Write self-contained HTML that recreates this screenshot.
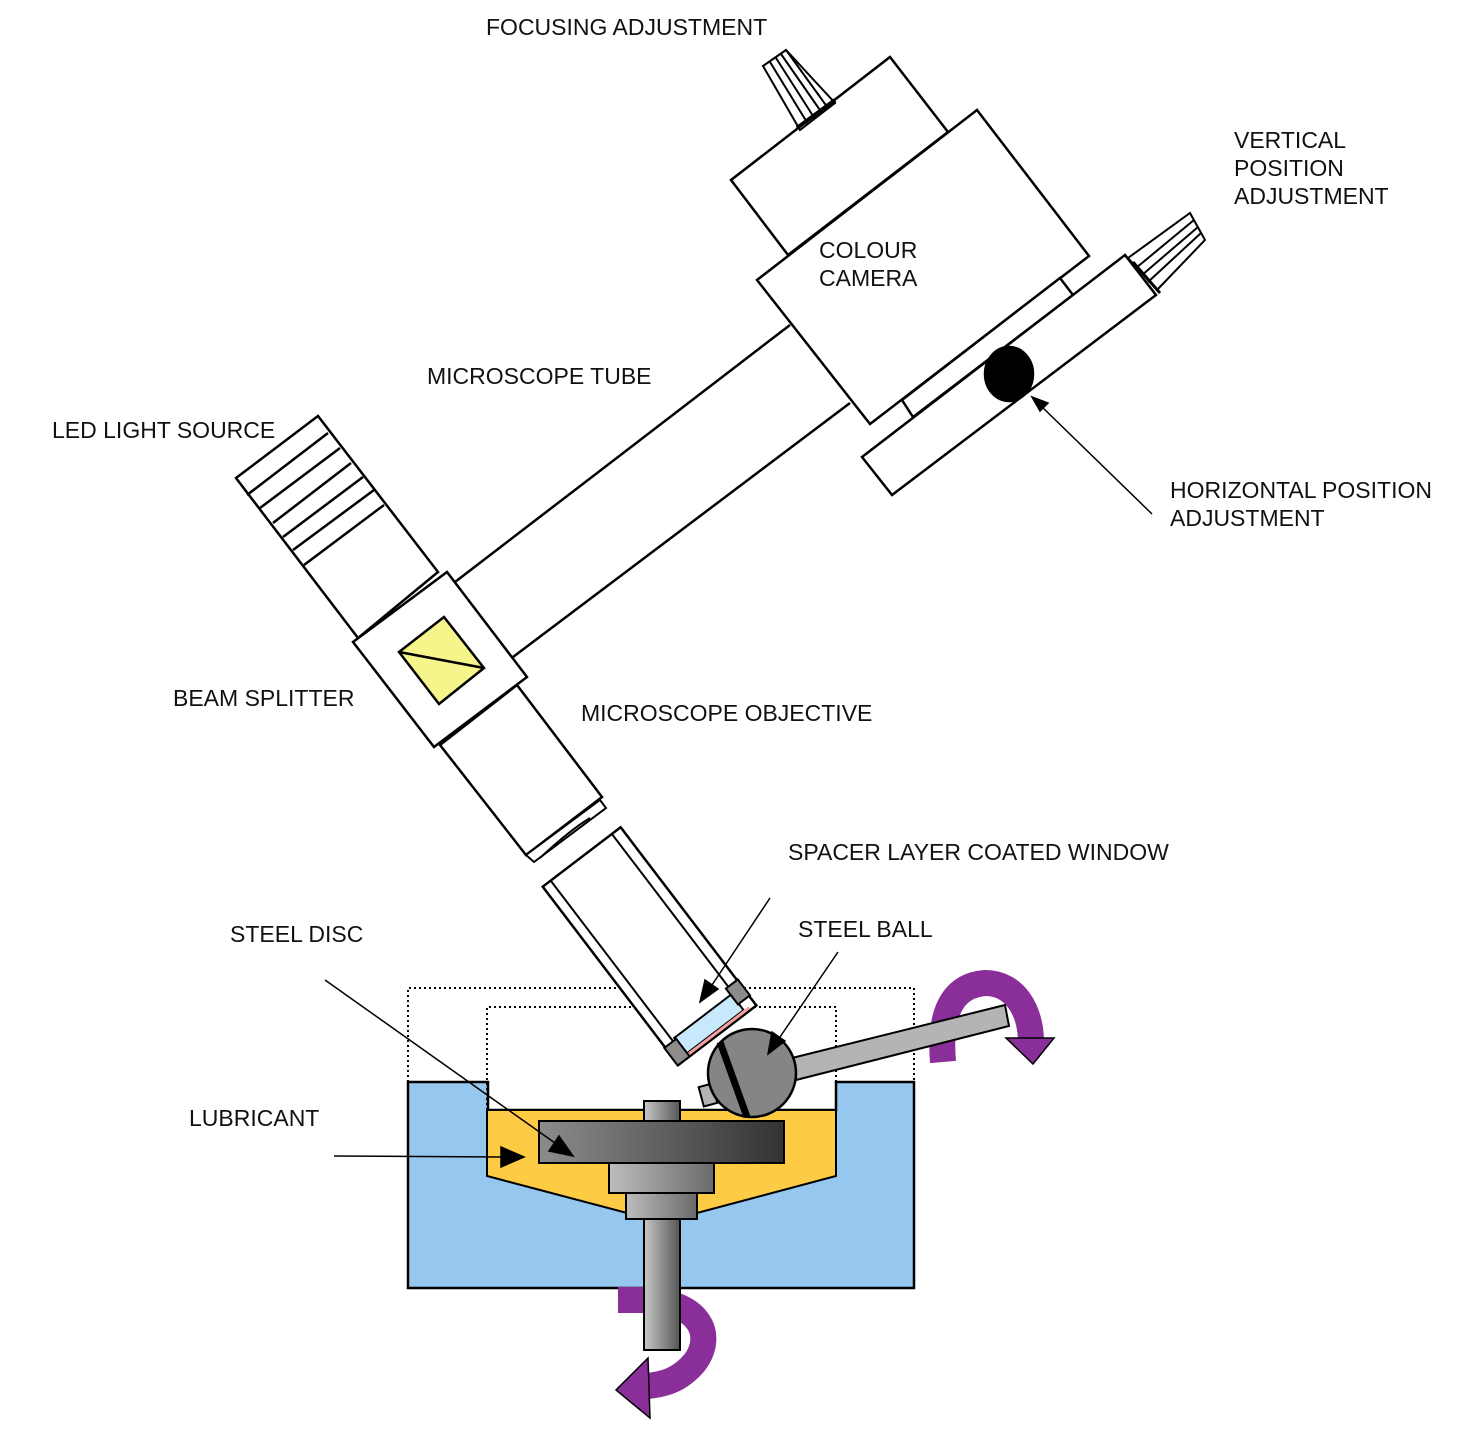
<!DOCTYPE html>
<html><head><meta charset="utf-8"><style>
html,body{margin:0;padding:0;background:#fff;}
svg{display:block;}
text{font-family:"Liberation Sans",Arial,sans-serif;font-size:23px;fill:#111;}
</style></head><body>
<svg width="1484" height="1430" viewBox="0 0 1484 1430" xmlns="http://www.w3.org/2000/svg">
<defs>
<linearGradient id="gd" x1="0" x2="1" y1="0" y2="0"><stop offset="0" stop-color="#8c8c8c"/><stop offset="1" stop-color="#333"/></linearGradient>
<linearGradient id="gs" x1="0" x2="1" y1="0" y2="0"><stop offset="0" stop-color="#c8c8c8"/><stop offset="1" stop-color="#555"/></linearGradient>
<linearGradient id="gs2" x1="0" x2="1" y1="0" y2="0"><stop offset="0" stop-color="#bdbdbd"/><stop offset="1" stop-color="#6a6a6a"/></linearGradient>
</defs>
<g fill="#fff" stroke="#000" stroke-width="2.5" stroke-linejoin="miter">
<line x1="455" y1="582" x2="790" y2="325"/>
<line x1="513" y1="657" x2="850" y2="403"/>
<polygon points="731,180 890,57 948,132 788,255"/>
<polygon points="763,66 786,50 835,103 800,130" stroke-width="2"/>
<g stroke-width="2"><line x1="770" y1="62" x2="808" y2="124"/><line x1="776" y1="58" x2="815" y2="119"/><line x1="781" y1="54" x2="822" y2="113"/><line x1="786" y1="50" x2="828" y2="108"/></g>
<line x1="797" y1="128" x2="835" y2="100" stroke-width="4"/>
<polygon points="757,280 977,110 1089,256 870,424"/>
<polygon points="902,400 1060,278 1073,295 913,417"/>
<polygon points="862,457 1125,255 1156,295 892,495"/>
<polygon points="1128,258 1190,213 1205,240 1157,290" stroke-width="2"/>
<g stroke-width="2"><line x1="1136" y1="268" x2="1194" y2="220"/><line x1="1142" y1="275" x2="1198" y2="227"/><line x1="1148" y1="282" x2="1201" y2="233"/><line x1="1133" y1="262" x2="1160" y2="293" stroke-width="3"/></g>
<ellipse cx="1009" cy="374" rx="24" ry="27" fill="#000"/>
<polygon points="236,478 318,416 438,572 358,638"/>
<g stroke-width="2.5">
<line x1="247" y1="495" x2="328" y2="433"/><line x1="260" y1="508" x2="340" y2="448"/><line x1="273" y1="523" x2="351" y2="463"/><line x1="283" y1="537" x2="363" y2="477"/><line x1="293" y1="550" x2="374" y2="490"/><line x1="304" y1="565" x2="384" y2="505"/>
</g>
<polygon points="440,745 517,685 602,797 526,855"/>
<polygon points="526,855 600,800 606,808 534,862" stroke-width="2"/>
<path d="M540,858 Q570,830 590,818" fill="none" stroke-width="2"/>
<polygon points="353,642 447,572 527,677 434,747"/>
<polygon points="399,652 444,617 484,668 439,704" fill="#f5f58c"/>
<line x1="399" y1="652" x2="484" y2="668"/>
</g>
<polygon points="408,1082 488,1082 488,1110 836,1110 836,1082 914,1082 914,1288 408,1288" fill="#96c8ef" stroke="#000" stroke-width="2.5"/>
<polygon points="487,1110 836,1110 836,1176 697,1213 627,1213 487,1176" fill="#fecb45" stroke="#000" stroke-width="2"/>
<g fill="none" stroke="#000" stroke-width="2" stroke-dasharray="2,3">
<polyline points="408,1082 408,988 914,988 914,1082"/>
<polyline points="487,1110 487,1007 836,1007 836,1082"/>
</g>
<path d="M618,1300 L640,1300 C700,1300 715,1335 695,1362 C680,1380 665,1384 648,1386" fill="none" stroke="#8a2e9a" stroke-width="26"/>
<polygon points="648,1358 616,1390 650,1418" fill="#8a2e9a" stroke="#000" stroke-width="1.5"/>
<g stroke="#000" stroke-width="2">
<rect x="644" y="1101" width="36" height="20" fill="url(#gs)"/>
<rect x="644" y="1219" width="36" height="131" fill="url(#gs)"/>
<rect x="609" y="1163" width="105" height="30" fill="url(#gs2)"/>
<rect x="626" y="1193" width="71" height="26" fill="url(#gs2)"/>
<rect x="539" y="1121" width="245" height="42" fill="url(#gd)"/>
</g>
<path d="M943,1062 C938,1002 960,985 985,983 C1015,983 1030,1010 1031,1040" fill="none" stroke="#8a2e9a" stroke-width="26"/>
<polygon points="1006,1038 1054,1038 1033,1064" fill="#8a2e9a" stroke="#000" stroke-width="1.5"/>
<polygon points="792,1058 1005,1005 1009,1026 796,1080" fill="#b4b4b4" stroke="#000" stroke-width="2"/>
<rect x="701" y="1085" width="14" height="20" fill="#b4b4b4" stroke="#000" stroke-width="2" transform="rotate(-15 708 1095)"/>
<circle cx="752" cy="1073" r="44" fill="#858585" stroke="#000" stroke-width="2.5"/>
<line x1="720" y1="1042" x2="747" y2="1117" stroke="#000" stroke-width="7"/>
<g transform="translate(715,1032) rotate(-37.3)" stroke="#000" stroke-width="2.5" fill="#fff">
<rect x="-49" y="-220" width="98" height="224"/>
<line x1="-39" y1="-220" x2="-39" y2="-8" stroke-width="2"/>
<line x1="38" y1="-220" x2="38" y2="-8" stroke-width="2"/>
<rect x="-36" y="-20" width="72" height="20" fill="#c8e8fc" stroke-width="2"/>
<line x1="-34" y1="1.5" x2="42" y2="1.5" stroke="#f4a0a0" stroke-width="3"/>
<rect x="-50" y="-18" width="15" height="22" fill="#8c8c8c" stroke-width="2"/>
<rect x="35" y="-28" width="15" height="20" fill="#8c8c8c" stroke-width="2"/>
</g>
<g stroke="#000" stroke-width="1.5" fill="#000">
<line x1="1152" y1="514" x2="1040" y2="405"/><polygon points="1032,397 1048,403 1040,411"/>
<line x1="770" y1="898" x2="712" y2="985"/><polygon points="700,1002 705,980 718,989"/>
<line x1="838" y1="952" x2="780" y2="1037"/><polygon points="768,1054 772,1032 785,1041"/>
<line x1="325" y1="980" x2="555" y2="1143"/><polygon points="573,1156 549,1151 559,1136"/>
<line x1="334" y1="1156" x2="502" y2="1157"/><polygon points="524,1157 501,1147 501,1167"/>
</g>
<text x="486" y="35">FOCUSING ADJUSTMENT</text>
<text x="1234" y="148">VERTICAL</text>
<text x="1234" y="176">POSITION</text>
<text x="1234" y="204">ADJUSTMENT</text>
<text x="819" y="258">COLOUR</text>
<text x="819" y="286">CAMERA</text>
<text x="427" y="384">MICROSCOPE TUBE</text>
<text x="52" y="438">LED LIGHT SOURCE</text>
<text x="1170" y="498">HORIZONTAL POSITION</text>
<text x="1170" y="526">ADJUSTMENT</text>
<text x="173" y="706">BEAM SPLITTER</text>
<text x="581" y="721">MICROSCOPE OBJECTIVE</text>
<text x="788" y="860">SPACER LAYER COATED WINDOW</text>
<text x="798" y="937">STEEL BALL</text>
<text x="230" y="942">STEEL DISC</text>
<text x="189" y="1126">LUBRICANT</text>
</svg>
</body></html>
